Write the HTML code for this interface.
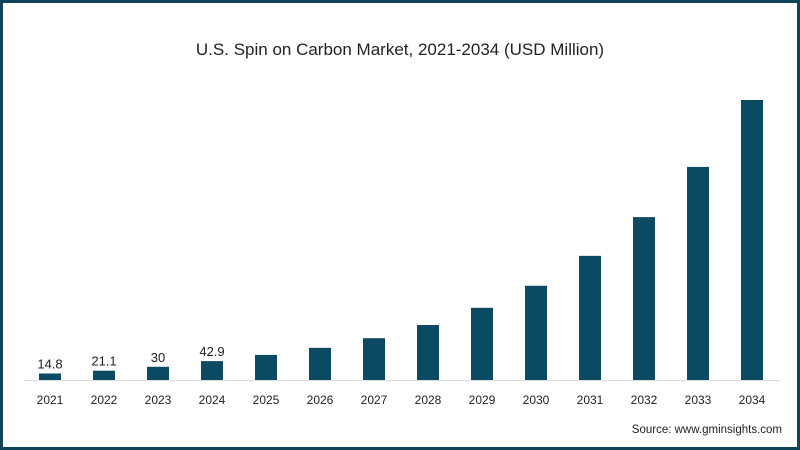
<!DOCTYPE html>
<html><head><meta charset="utf-8"><style>
html,body{margin:0;padding:0;background:#fff}
#wrap{position:relative;width:800px;height:450px;box-sizing:border-box;border:3px solid #0e4359;background:#fff;overflow:hidden}
svg{position:absolute;left:-3px;top:-3px}
text{font-family:"Liberation Sans",sans-serif}
</style></head><body>
<div id="wrap">
<svg id="chart" width="800" height="450">
<text x="400" y="55" text-anchor="middle" font-size="17" fill="#222">U.S. Spin on Carbon Market, 2021-2034 (USD Million)</text>
<line x1="24" y1="380.5" x2="780" y2="380.5" stroke="#dddddd" stroke-width="1"/>
<text x="782" y="433" text-anchor="end" font-size="11.5" fill="#222">Source: www.gminsights.com</text>
</svg>
</div>
<script>
const categories=["2021","2022","2023","2024","2025","2026","2027","2028","2029","2030","2031","2032","2033","2034"];
const values=[14.8,21.1,30,42.9,57,73,95,125,164,214,282,370,484,636];
const valueLabels=["14.8","21.1","30","42.9","","","","","","","","","",""];
const svg=document.getElementById('chart');
const NS="http://www.w3.org/2000/svg";
const baseY=380, pxPerUnit=280/636, x0=50, step=54, barW=22;
function xScale(i){return x0+i*step;}
function yScale(v){return baseY-v*pxPerUnit;}
categories.forEach((c,i)=>{
  const cx=xScale(i), top=yScale(values[i]);
  const r=document.createElementNS(NS,'rect');
  r.setAttribute('x',cx-barW/2);r.setAttribute('y',top);
  r.setAttribute('width',barW);r.setAttribute('height',baseY-top);
  r.setAttribute('fill','#0b4a62');
  
  
  svg.appendChild(r);
  const t=document.createElementNS(NS,'text');
  t.setAttribute('x',cx);t.setAttribute('y',404);
  t.setAttribute('text-anchor','middle');t.setAttribute('font-size','12');t.setAttribute('fill','#222');
  t.textContent=c;
  
  
  svg.appendChild(t);
  if(valueLabels[i]){
    const v=document.createElementNS(NS,'text');
    v.setAttribute('x',cx);v.setAttribute('y',top-5);
    v.setAttribute('text-anchor','middle');v.setAttribute('font-size','13');v.setAttribute('fill','#222');
    v.textContent=valueLabels[i];
    
    
    svg.appendChild(v);
  }
});
</script>
</body></html>
